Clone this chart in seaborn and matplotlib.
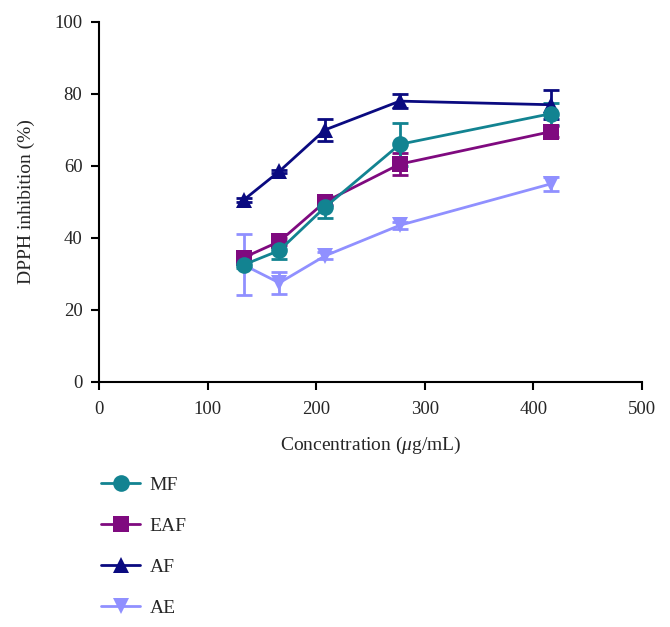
import pandas as pd
import matplotlib.pyplot as plt
import numpy as np
import seaborn as sns

# concentrations (ug/mL)
conc = [133, 166, 208, 277, 416]

names = ['MF', 'EAF', 'AF', 'AE']
mf = [32.5, 36.5, 48.5, 66.0, 74.5]
eaf = [34.5, 39.0, 50.0, 60.5, 69.5]
af = [50.5, 58.5, 70.0, 78.0, 77.0]
ae = [32.5, 27.5, 35.0, 43.5, 55.0]

mf_err = [1.0, 2.5, 3.0, 6.0, 3.0]
eaf_err = [1.0, 1.0, 1.0, 3.0, 1.5]
af_err = [0.5, 0.5, 3.0, 2.0, 4.0]
ae_err = [8.5, 3.0, 1.0, 1.0, 2.0]

colours = ["#128391", "#7f0a7f", "#0a0a80", "#9090ff"]
marks = ['o', 's', '^', 'v']

means = [mf, eaf, af, ae]
errs = [mf_err, eaf_err, af_err, ae_err]

rows = []
for n, m in zip(names, means):
    for c, v in zip(conc, m):
        rows.append({'conc': c, 'inhib': v, 'group': n})
df = pd.DataFrame(rows)

sns.set_style("ticks")
plt.rcParams['font.family'] = ['Liberation Serif', 'DejaVu Serif']
plt.rcParams['mathtext.fontset'] = 'custom'
plt.rcParams['mathtext.it'] = 'Liberation Serif:italic'
plt.rcParams['mathtext.rm'] = 'Liberation Serif'

fig = plt.figure(figsize=(6.7, 6.27), dpi=100)
ax = fig.add_axes([0.148, 0.391, 0.81, 0.574])

# draw in reverse so MF ends up on top
order = names[::-1]
pal = dict(zip(names, colours))
mk = dict(zip(names, marks))

for m, e, col in zip(means[::-1], errs[::-1], colours[::-1]):
    ax.errorbar(conc, m, yerr=e, fmt='none', ecolor=col, elinewidth=2,
                capsize=6, capthick=2, zorder=2)

sns.lineplot(data=df, x='conc', y='inhib', hue='group', style='group',
             hue_order=order, style_order=order, palette=pal, markers=mk,
             dashes=False, linewidth=2, markersize=12, markeredgewidth=0,
             ax=ax, zorder=3)

ax.set_xlim(0, 500)
ax.set_ylim(0, 100)
ax.set_xticks(np.arange(0, 501, 100))
ax.set_yticks(np.arange(0, 101, 20))
ax.set_xlabel(r"Concentration ($\mu$g/mL)", fontsize=14, labelpad=12)
ax.set_ylabel("DPPH inhibition (%)", fontsize=14, labelpad=14)
ax.tick_params(axis='both', labelsize=13.5, direction='out', length=6,
               width=1.5, color='black')
ax.tick_params(axis='x', pad=8)
ax.tick_params(axis='y', pad=6)
for s in ['left', 'bottom']:
    ax.spines[s].set_linewidth(1.5)
    ax.spines[s].set_color('black')
sns.despine(ax=ax)

handles, labels = ax.get_legend_handles_labels()
hmap = dict(zip(labels, handles))
ax.legend([hmap[n] for n in names], names, loc='upper left',
          bbox_to_anchor=(0.125, 0.268), bbox_transform=fig.transFigure,
          frameon=False, fontsize=14, handlelength=2.0, labelspacing=1.2,
          handletextpad=0.5)

plt.savefig("out.png", dpi=100)
